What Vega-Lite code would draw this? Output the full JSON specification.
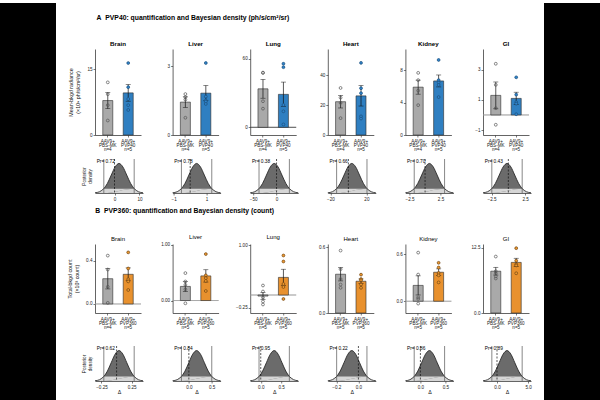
{
  "$schema": "https://vega.github.io/schema/vega-lite/v6.json",
  "padding": 0,
  "background": "white",
  "spacing": 11,
  "config": {
    "font": "Liberation Sans",
    "view": {"stroke": null},
    "axis": {"labelFontSize": 4.6, "labelColor": "#222", "titleFontSize": 5.3, "titleFontWeight": "normal", "titleColor": "#111", "tickSize": 2, "tickColor": "#222", "tickWidth": 0.6, "domainColor": "#222", "domainWidth": 0.7, "labelPadding": 1, "grid": false, "titlePadding": 6, "labelFlush": false, "labelOverlap": false},
    "axisX": {"labelAngle": 0, "labelLineHeight": 4.4, "titlePadding": 1},
    "title": {"fontSize": 6.2, "fontWeight": "bold", "offset": 2, "color": "#000", "frame": "group", "anchor": "middle"}
  },
  "datasets": {
    "bars": [
      {"p": "A-Brain", "grp": "AAV9+ PBS-MK n=4", "c": "PBS-MK", "m": 7.85, "lo": 6.0, "hi": 9.7},
      {"p": "A-Brain", "grp": "AAV9+ PVP40 n=5", "c": "PVP40", "m": 9.6, "lo": 7.7, "hi": 11.5},
      {"p": "A-Liver", "grp": "AAV9+ PBS-MK n=4", "c": "PBS-MK", "m": 1.43, "lo": 1.2, "hi": 1.66},
      {"p": "A-Liver", "grp": "AAV9+ PVP40 n=5", "c": "PVP40", "m": 1.82, "lo": 1.49, "hi": 2.15},
      {"p": "A-Lung", "grp": "AAV9+ PBS-MK n=4", "c": "PBS-MK", "m": 33.6, "lo": 25.4, "hi": 41.8},
      {"p": "A-Lung", "grp": "AAV9+ PVP40 n=5", "c": "PVP40", "m": 28.8, "lo": 18.1, "hi": 39.5},
      {"p": "A-Heart", "grp": "AAV9+ PBS-MK n=4", "c": "PBS-MK", "m": 22.3, "lo": 18.1, "hi": 26.5},
      {"p": "A-Heart", "grp": "AAV9+ PVP40 n=5", "c": "PVP40", "m": 26.2, "lo": 19.4, "hi": 33.1},
      {"p": "A-Kidney", "grp": "AAV9+ PBS-MK n=4", "c": "PBS-MK", "m": 5.93, "lo": 5.06, "hi": 6.8},
      {"p": "A-Kidney", "grp": "AAV9+ PVP40 n=5", "c": "PVP40", "m": 6.7, "lo": 5.96, "hi": 7.44},
      {"p": "A-GI", "grp": "AAV9+ PBS-MK n=4", "c": "PBS-MK", "m": 1.3, "lo": 0.41, "hi": 2.19},
      {"p": "A-GI", "grp": "AAV9+ PVP40 n=5", "c": "PVP40", "m": 1.1, "lo": 0.69, "hi": 1.51},
      {"p": "B-Brain", "grp": "AAV9+ PBS-MK n=4", "c": "PBS-MK", "m": 0.235, "lo": 0.14, "hi": 0.33},
      {"p": "B-Brain", "grp": "AAV9+ PVP360 n=5", "c": "PVP360", "m": 0.276, "lo": 0.216, "hi": 0.336},
      {"p": "B-Liver", "grp": "AAV9+ PBS-MK n=5", "c": "PBS-MK", "m": 0.252, "lo": 0.163, "hi": 0.341},
      {"p": "B-Liver", "grp": "AAV9+ PVP360 n=5", "c": "PVP360", "m": 0.44, "lo": 0.33, "hi": 0.55},
      {"p": "B-Lung", "grp": "AAV9+ PBS-MK n=5", "c": "PBS-MK", "m": -0.022, "lo": -0.09, "hi": 0.047},
      {"p": "B-Lung", "grp": "AAV9+ PVP360 n=5", "c": "PVP360", "m": 0.352, "lo": 0.19, "hi": 0.515},
      {"p": "B-Heart", "grp": "AAV9+ PBS-MK n=5", "c": "PBS-MK", "m": 0.354, "lo": 0.293, "hi": 0.415},
      {"p": "B-Heart", "grp": "AAV9+ PVP360 n=5", "c": "PVP360", "m": 0.29, "lo": 0.269, "hi": 0.311},
      {"p": "B-Kidney", "grp": "AAV9+ PBS-MK n=5", "c": "PBS-MK", "m": 0.202, "lo": 0.08, "hi": 0.324},
      {"p": "B-Kidney", "grp": "AAV9+ PVP360 n=5", "c": "PVP360", "m": 0.37, "lo": 0.327, "hi": 0.413},
      {"p": "B-GI", "grp": "AAV9+ PBS-MK n=5", "c": "PBS-MK", "m": 8.0, "lo": 7.26, "hi": 8.74},
      {"p": "B-GI", "grp": "AAV9+ PVP360 n=5", "c": "PVP360", "m": 9.68, "lo": 8.9, "hi": 10.47}
    ],
    "pts": [
      {"p": "A-Brain", "grp": "AAV9+ PBS-MK n=4", "c": "PBS-MK", "v": 12.0},
      {"p": "A-Brain", "grp": "AAV9+ PBS-MK n=4", "c": "PBS-MK", "v": 9.3},
      {"p": "A-Brain", "grp": "AAV9+ PBS-MK n=4", "c": "PBS-MK", "v": 6.8},
      {"p": "A-Brain", "grp": "AAV9+ PBS-MK n=4", "c": "PBS-MK", "v": 3.3},
      {"p": "A-Brain", "grp": "AAV9+ PVP40 n=5", "c": "PVP40", "v": 16.4},
      {"p": "A-Brain", "grp": "AAV9+ PVP40 n=5", "c": "PVP40", "v": 10.9},
      {"p": "A-Brain", "grp": "AAV9+ PVP40 n=5", "c": "PVP40", "v": 8.2},
      {"p": "A-Brain", "grp": "AAV9+ PVP40 n=5", "c": "PVP40", "v": 6.8},
      {"p": "A-Brain", "grp": "AAV9+ PVP40 n=5", "c": "PVP40", "v": 5.7},
      {"p": "A-Liver", "grp": "AAV9+ PBS-MK n=4", "c": "PBS-MK", "v": 1.78},
      {"p": "A-Liver", "grp": "AAV9+ PBS-MK n=4", "c": "PBS-MK", "v": 1.65},
      {"p": "A-Liver", "grp": "AAV9+ PBS-MK n=4", "c": "PBS-MK", "v": 1.54},
      {"p": "A-Liver", "grp": "AAV9+ PBS-MK n=4", "c": "PBS-MK", "v": 0.75},
      {"p": "A-Liver", "grp": "AAV9+ PVP40 n=5", "c": "PVP40", "v": 3.13},
      {"p": "A-Liver", "grp": "AAV9+ PVP40 n=5", "c": "PVP40", "v": 1.67},
      {"p": "A-Liver", "grp": "AAV9+ PVP40 n=5", "c": "PVP40", "v": 1.5},
      {"p": "A-Liver", "grp": "AAV9+ PVP40 n=5", "c": "PVP40", "v": 1.45},
      {"p": "A-Liver", "grp": "AAV9+ PVP40 n=5", "c": "PVP40", "v": 1.35},
      {"p": "A-Lung", "grp": "AAV9+ PBS-MK n=4", "c": "PBS-MK", "v": 47.8},
      {"p": "A-Lung", "grp": "AAV9+ PBS-MK n=4", "c": "PBS-MK", "v": 47.5},
      {"p": "A-Lung", "grp": "AAV9+ PBS-MK n=4", "c": "PBS-MK", "v": 22.8},
      {"p": "A-Lung", "grp": "AAV9+ PBS-MK n=4", "c": "PBS-MK", "v": 16.3},
      {"p": "A-Lung", "grp": "AAV9+ PVP40 n=5", "c": "PVP40", "v": 55.5},
      {"p": "A-Lung", "grp": "AAV9+ PVP40 n=5", "c": "PVP40", "v": 52.5},
      {"p": "A-Lung", "grp": "AAV9+ PVP40 n=5", "c": "PVP40", "v": 19.5},
      {"p": "A-Lung", "grp": "AAV9+ PVP40 n=5", "c": "PVP40", "v": 14.0},
      {"p": "A-Lung", "grp": "AAV9+ PVP40 n=5", "c": "PVP40", "v": 2.5},
      {"p": "A-Heart", "grp": "AAV9+ PBS-MK n=4", "c": "PBS-MK", "v": 31.5},
      {"p": "A-Heart", "grp": "AAV9+ PBS-MK n=4", "c": "PBS-MK", "v": 25.0},
      {"p": "A-Heart", "grp": "AAV9+ PBS-MK n=4", "c": "PBS-MK", "v": 21.5},
      {"p": "A-Heart", "grp": "AAV9+ PBS-MK n=4", "c": "PBS-MK", "v": 11.3},
      {"p": "A-Heart", "grp": "AAV9+ PVP40 n=5", "c": "PVP40", "v": 48.3},
      {"p": "A-Heart", "grp": "AAV9+ PVP40 n=5", "c": "PVP40", "v": 31.3},
      {"p": "A-Heart", "grp": "AAV9+ PVP40 n=5", "c": "PVP40", "v": 28.0},
      {"p": "A-Heart", "grp": "AAV9+ PVP40 n=5", "c": "PVP40", "v": 12.5},
      {"p": "A-Heart", "grp": "AAV9+ PVP40 n=5", "c": "PVP40", "v": 11.0},
      {"p": "A-Kidney", "grp": "AAV9+ PBS-MK n=4", "c": "PBS-MK", "v": 7.7},
      {"p": "A-Kidney", "grp": "AAV9+ PBS-MK n=4", "c": "PBS-MK", "v": 6.8},
      {"p": "A-Kidney", "grp": "AAV9+ PBS-MK n=4", "c": "PBS-MK", "v": 5.5},
      {"p": "A-Kidney", "grp": "AAV9+ PBS-MK n=4", "c": "PBS-MK", "v": 3.7},
      {"p": "A-Kidney", "grp": "AAV9+ PVP40 n=5", "c": "PVP40", "v": 9.3},
      {"p": "A-Kidney", "grp": "AAV9+ PVP40 n=5", "c": "PVP40", "v": 6.8},
      {"p": "A-Kidney", "grp": "AAV9+ PVP40 n=5", "c": "PVP40", "v": 6.5},
      {"p": "A-Kidney", "grp": "AAV9+ PVP40 n=5", "c": "PVP40", "v": 6.2},
      {"p": "A-Kidney", "grp": "AAV9+ PVP40 n=5", "c": "PVP40", "v": 4.7},
      {"p": "A-GI", "grp": "AAV9+ PBS-MK n=4", "c": "PBS-MK", "v": 3.4},
      {"p": "A-GI", "grp": "AAV9+ PBS-MK n=4", "c": "PBS-MK", "v": 2.0},
      {"p": "A-GI", "grp": "AAV9+ PBS-MK n=4", "c": "PBS-MK", "v": 0.45},
      {"p": "A-GI", "grp": "AAV9+ PBS-MK n=4", "c": "PBS-MK", "v": -0.65},
      {"p": "A-GI", "grp": "AAV9+ PVP40 n=5", "c": "PVP40", "v": 2.5},
      {"p": "A-GI", "grp": "AAV9+ PVP40 n=5", "c": "PVP40", "v": 1.35},
      {"p": "A-GI", "grp": "AAV9+ PVP40 n=5", "c": "PVP40", "v": 0.85},
      {"p": "A-GI", "grp": "AAV9+ PVP40 n=5", "c": "PVP40", "v": 0.75},
      {"p": "A-GI", "grp": "AAV9+ PVP40 n=5", "c": "PVP40", "v": 0.05},
      {"p": "B-Brain", "grp": "AAV9+ PBS-MK n=4", "c": "PBS-MK", "v": 0.45},
      {"p": "B-Brain", "grp": "AAV9+ PBS-MK n=4", "c": "PBS-MK", "v": 0.32},
      {"p": "B-Brain", "grp": "AAV9+ PBS-MK n=4", "c": "PBS-MK", "v": 0.16},
      {"p": "B-Brain", "grp": "AAV9+ PBS-MK n=4", "c": "PBS-MK", "v": 0.01},
      {"p": "B-Brain", "grp": "AAV9+ PVP360 n=5", "c": "PVP360", "v": 0.48},
      {"p": "B-Brain", "grp": "AAV9+ PVP360 n=5", "c": "PVP360", "v": 0.33},
      {"p": "B-Brain", "grp": "AAV9+ PVP360 n=5", "c": "PVP360", "v": 0.23},
      {"p": "B-Brain", "grp": "AAV9+ PVP360 n=5", "c": "PVP360", "v": 0.21},
      {"p": "B-Brain", "grp": "AAV9+ PVP360 n=5", "c": "PVP360", "v": 0.13},
      {"p": "B-Liver", "grp": "AAV9+ PBS-MK n=5", "c": "PBS-MK", "v": 0.49},
      {"p": "B-Liver", "grp": "AAV9+ PBS-MK n=5", "c": "PBS-MK", "v": 0.34},
      {"p": "B-Liver", "grp": "AAV9+ PBS-MK n=5", "c": "PBS-MK", "v": 0.28},
      {"p": "B-Liver", "grp": "AAV9+ PBS-MK n=5", "c": "PBS-MK", "v": 0.2},
      {"p": "B-Liver", "grp": "AAV9+ PBS-MK n=5", "c": "PBS-MK", "v": -0.05},
      {"p": "B-Liver", "grp": "AAV9+ PVP360 n=5", "c": "PVP360", "v": 0.83},
      {"p": "B-Liver", "grp": "AAV9+ PVP360 n=5", "c": "PVP360", "v": 0.45},
      {"p": "B-Liver", "grp": "AAV9+ PVP360 n=5", "c": "PVP360", "v": 0.4},
      {"p": "B-Liver", "grp": "AAV9+ PVP360 n=5", "c": "PVP360", "v": 0.35},
      {"p": "B-Liver", "grp": "AAV9+ PVP360 n=5", "c": "PVP360", "v": 0.17},
      {"p": "B-Lung", "grp": "AAV9+ PBS-MK n=5", "c": "PBS-MK", "v": 0.19},
      {"p": "B-Lung", "grp": "AAV9+ PBS-MK n=5", "c": "PBS-MK", "v": 0.07},
      {"p": "B-Lung", "grp": "AAV9+ PBS-MK n=5", "c": "PBS-MK", "v": -0.05},
      {"p": "B-Lung", "grp": "AAV9+ PBS-MK n=5", "c": "PBS-MK", "v": -0.13},
      {"p": "B-Lung", "grp": "AAV9+ PBS-MK n=5", "c": "PBS-MK", "v": -0.19},
      {"p": "B-Lung", "grp": "AAV9+ PVP360 n=5", "c": "PVP360", "v": 0.79},
      {"p": "B-Lung", "grp": "AAV9+ PVP360 n=5", "c": "PVP360", "v": 0.67},
      {"p": "B-Lung", "grp": "AAV9+ PVP360 n=5", "c": "PVP360", "v": 0.22},
      {"p": "B-Lung", "grp": "AAV9+ PVP360 n=5", "c": "PVP360", "v": 0.16},
      {"p": "B-Lung", "grp": "AAV9+ PVP360 n=5", "c": "PVP360", "v": -0.08},
      {"p": "B-Heart", "grp": "AAV9+ PBS-MK n=5", "c": "PBS-MK", "v": 0.57},
      {"p": "B-Heart", "grp": "AAV9+ PBS-MK n=5", "c": "PBS-MK", "v": 0.4},
      {"p": "B-Heart", "grp": "AAV9+ PBS-MK n=5", "c": "PBS-MK", "v": 0.31},
      {"p": "B-Heart", "grp": "AAV9+ PBS-MK n=5", "c": "PBS-MK", "v": 0.26},
      {"p": "B-Heart", "grp": "AAV9+ PBS-MK n=5", "c": "PBS-MK", "v": 0.23},
      {"p": "B-Heart", "grp": "AAV9+ PVP360 n=5", "c": "PVP360", "v": 0.35},
      {"p": "B-Heart", "grp": "AAV9+ PVP360 n=5", "c": "PVP360", "v": 0.31},
      {"p": "B-Heart", "grp": "AAV9+ PVP360 n=5", "c": "PVP360", "v": 0.3},
      {"p": "B-Heart", "grp": "AAV9+ PVP360 n=5", "c": "PVP360", "v": 0.26},
      {"p": "B-Heart", "grp": "AAV9+ PVP360 n=5", "c": "PVP360", "v": 0.23},
      {"p": "B-Kidney", "grp": "AAV9+ PBS-MK n=5", "c": "PBS-MK", "v": 0.62},
      {"p": "B-Kidney", "grp": "AAV9+ PBS-MK n=5", "c": "PBS-MK", "v": 0.34},
      {"p": "B-Kidney", "grp": "AAV9+ PBS-MK n=5", "c": "PBS-MK", "v": 0.05},
      {"p": "B-Kidney", "grp": "AAV9+ PBS-MK n=5", "c": "PBS-MK", "v": 0.03},
      {"p": "B-Kidney", "grp": "AAV9+ PBS-MK n=5", "c": "PBS-MK", "v": -0.03},
      {"p": "B-Kidney", "grp": "AAV9+ PVP360 n=5", "c": "PVP360", "v": 0.49},
      {"p": "B-Kidney", "grp": "AAV9+ PVP360 n=5", "c": "PVP360", "v": 0.43},
      {"p": "B-Kidney", "grp": "AAV9+ PVP360 n=5", "c": "PVP360", "v": 0.36},
      {"p": "B-Kidney", "grp": "AAV9+ PVP360 n=5", "c": "PVP360", "v": 0.33},
      {"p": "B-Kidney", "grp": "AAV9+ PVP360 n=5", "c": "PVP360", "v": 0.24},
      {"p": "B-GI", "grp": "AAV9+ PBS-MK n=5", "c": "PBS-MK", "v": 10.8},
      {"p": "B-GI", "grp": "AAV9+ PBS-MK n=5", "c": "PBS-MK", "v": 8.0},
      {"p": "B-GI", "grp": "AAV9+ PBS-MK n=5", "c": "PBS-MK", "v": 7.6},
      {"p": "B-GI", "grp": "AAV9+ PBS-MK n=5", "c": "PBS-MK", "v": 7.0},
      {"p": "B-GI", "grp": "AAV9+ PBS-MK n=5", "c": "PBS-MK", "v": 6.6},
      {"p": "B-GI", "grp": "AAV9+ PVP360 n=5", "c": "PVP360", "v": 12.4},
      {"p": "B-GI", "grp": "AAV9+ PVP360 n=5", "c": "PVP360", "v": 10.0},
      {"p": "B-GI", "grp": "AAV9+ PVP360 n=5", "c": "PVP360", "v": 9.3},
      {"p": "B-GI", "grp": "AAV9+ PVP360 n=5", "c": "PVP360", "v": 9.1},
      {"p": "B-GI", "grp": "AAV9+ PVP360 n=5", "c": "PVP360", "v": 7.6}
    ],
    "post": [
      {"p": "A-Brain", "lo": -4.28, "hi": 7.88, "lab": "Pr= 0.72"},
      {"p": "A-Liver", "lo": -0.531, "hi": 1.311, "lab": "Pr= 0.78"},
      {"p": "A-Lung", "lo": -37.54, "hi": 27.54, "lab": "Pr= 0.38"},
      {"p": "A-Heart", "lo": -13.06, "hi": 20.66, "lab": "Pr= 0.66"},
      {"p": "A-Kidney", "lo": -1.75, "hi": 3.15, "lab": "Pr= 0.70"},
      {"p": "A-GI", "lo": -2.454, "hi": 2.054, "lab": "Pr= 0.43"},
      {"p": "B-Brain", "lo": -0.211, "hi": 0.291, "lab": "Pr= 0.62"},
      {"p": "B-Liver", "lo": -0.163, "hi": 0.503, "lab": "Pr= 0.84"},
      {"p": "B-Lung", "lo": -0.042, "hi": 0.702, "lab": "Pr= 0.95"},
      {"p": "B-Heart", "lo": -0.197, "hi": 0.077, "lab": "Pr= 0.22"},
      {"p": "B-Kidney", "lo": -0.124, "hi": 0.484, "lab": "Pr= 0.86"},
      {"p": "B-GI", "lo": -0.83, "hi": 4.03, "lab": "Pr= 0.89"}
    ],
    "dens": [
      {"p": "A-Brain", "g": "L", "x": -7.81, "y": 0.0082}, {"p": "A-Brain", "g": "L", "x": -5.95, "y": 0.0439}, {"p": "A-Brain", "g": "L", "x": -4.28, "y": 0.1465},
      {"p": "A-Brain", "g": "M", "x": -4.28, "y": 0.1465}, {"p": "A-Brain", "g": "M", "x": -2.85, "y": 0.3247}, {"p": "A-Brain", "g": "M", "x": -1.3, "y": 0.6065}, {"p": "A-Brain", "g": "M", "x": 0.25, "y": 0.8825}, {"p": "A-Brain", "g": "M", "x": 1.8, "y": 1}, {"p": "A-Brain", "g": "M", "x": 3.35, "y": 0.8825}, {"p": "A-Brain", "g": "M", "x": 4.9, "y": 0.6065}, {"p": "A-Brain", "g": "M", "x": 6.45, "y": 0.3247}, {"p": "A-Brain", "g": "M", "x": 7.88, "y": 0.1465},
      {"p": "A-Brain", "g": "R", "x": 7.88, "y": 0.1465}, {"p": "A-Brain", "g": "R", "x": 9.55, "y": 0.0439}, {"p": "A-Brain", "g": "R", "x": 11.41, "y": 0.0082},
      {"p": "A-Liver", "g": "L", "x": -1.067, "y": 0.0082}, {"p": "A-Liver", "g": "L", "x": -0.785, "y": 0.0439}, {"p": "A-Liver", "g": "L", "x": -0.531, "y": 0.1465},
      {"p": "A-Liver", "g": "M", "x": -0.531, "y": 0.1465}, {"p": "A-Liver", "g": "M", "x": -0.315, "y": 0.3247}, {"p": "A-Liver", "g": "M", "x": -0.08, "y": 0.6065}, {"p": "A-Liver", "g": "M", "x": 0.155, "y": 0.8825}, {"p": "A-Liver", "g": "M", "x": 0.39, "y": 1}, {"p": "A-Liver", "g": "M", "x": 0.625, "y": 0.8825}, {"p": "A-Liver", "g": "M", "x": 0.86, "y": 0.6065}, {"p": "A-Liver", "g": "M", "x": 1.095, "y": 0.3247}, {"p": "A-Liver", "g": "M", "x": 1.311, "y": 0.1465},
      {"p": "A-Liver", "g": "R", "x": 1.311, "y": 0.1465}, {"p": "A-Liver", "g": "R", "x": 1.565, "y": 0.0439}, {"p": "A-Liver", "g": "R", "x": 1.847, "y": 0.0082},
      {"p": "A-Lung", "g": "L", "x": -56.46, "y": 0.0082}, {"p": "A-Lung", "g": "L", "x": -46.5, "y": 0.0439}, {"p": "A-Lung", "g": "L", "x": -37.54, "y": 0.1465},
      {"p": "A-Lung", "g": "M", "x": -37.54, "y": 0.1465}, {"p": "A-Lung", "g": "M", "x": -29.9, "y": 0.3247}, {"p": "A-Lung", "g": "M", "x": -21.6, "y": 0.6065}, {"p": "A-Lung", "g": "M", "x": -13.3, "y": 0.8825}, {"p": "A-Lung", "g": "M", "x": -5, "y": 1}, {"p": "A-Lung", "g": "M", "x": 3.3, "y": 0.8825}, {"p": "A-Lung", "g": "M", "x": 11.6, "y": 0.6065}, {"p": "A-Lung", "g": "M", "x": 19.9, "y": 0.3247}, {"p": "A-Lung", "g": "M", "x": 27.54, "y": 0.1465},
      {"p": "A-Lung", "g": "R", "x": 27.54, "y": 0.1465}, {"p": "A-Lung", "g": "R", "x": 36.5, "y": 0.0439}, {"p": "A-Lung", "g": "R", "x": 46.46, "y": 0.0082},
      {"p": "A-Heart", "g": "L", "x": -22.86, "y": 0.0082}, {"p": "A-Heart", "g": "L", "x": -17.7, "y": 0.0439}, {"p": "A-Heart", "g": "L", "x": -13.06, "y": 0.1465},
      {"p": "A-Heart", "g": "M", "x": -13.06, "y": 0.1465}, {"p": "A-Heart", "g": "M", "x": -9.1, "y": 0.3247}, {"p": "A-Heart", "g": "M", "x": -4.8, "y": 0.6065}, {"p": "A-Heart", "g": "M", "x": -0.5, "y": 0.8825}, {"p": "A-Heart", "g": "M", "x": 3.8, "y": 1}, {"p": "A-Heart", "g": "M", "x": 8.1, "y": 0.8825}, {"p": "A-Heart", "g": "M", "x": 12.4, "y": 0.6065}, {"p": "A-Heart", "g": "M", "x": 16.7, "y": 0.3247}, {"p": "A-Heart", "g": "M", "x": 20.66, "y": 0.1465},
      {"p": "A-Heart", "g": "R", "x": 20.66, "y": 0.1465}, {"p": "A-Heart", "g": "R", "x": 25.3, "y": 0.0439}, {"p": "A-Heart", "g": "R", "x": 30.46, "y": 0.0082},
      {"p": "A-Kidney", "g": "L", "x": -3.175, "y": 0.0082}, {"p": "A-Kidney", "g": "L", "x": -2.425, "y": 0.0439}, {"p": "A-Kidney", "g": "L", "x": -1.75, "y": 0.1465},
      {"p": "A-Kidney", "g": "M", "x": -1.75, "y": 0.1465}, {"p": "A-Kidney", "g": "M", "x": -1.175, "y": 0.3247}, {"p": "A-Kidney", "g": "M", "x": -0.55, "y": 0.6065}, {"p": "A-Kidney", "g": "M", "x": 0.075, "y": 0.8825}, {"p": "A-Kidney", "g": "M", "x": 0.7, "y": 1}, {"p": "A-Kidney", "g": "M", "x": 1.325, "y": 0.8825}, {"p": "A-Kidney", "g": "M", "x": 1.95, "y": 0.6065}, {"p": "A-Kidney", "g": "M", "x": 2.575, "y": 0.3247}, {"p": "A-Kidney", "g": "M", "x": 3.15, "y": 0.1465},
      {"p": "A-Kidney", "g": "R", "x": 3.15, "y": 0.1465}, {"p": "A-Kidney", "g": "R", "x": 3.825, "y": 0.0439}, {"p": "A-Kidney", "g": "R", "x": 4.575, "y": 0.0082},
      {"p": "A-GI", "g": "L", "x": -3.765, "y": 0.0082}, {"p": "A-GI", "g": "L", "x": -3.075, "y": 0.0439}, {"p": "A-GI", "g": "L", "x": -2.454, "y": 0.1465},
      {"p": "A-GI", "g": "M", "x": -2.454, "y": 0.1465}, {"p": "A-GI", "g": "M", "x": -1.925, "y": 0.3247}, {"p": "A-GI", "g": "M", "x": -1.35, "y": 0.6065}, {"p": "A-GI", "g": "M", "x": -0.775, "y": 0.8825}, {"p": "A-GI", "g": "M", "x": -0.2, "y": 1}, {"p": "A-GI", "g": "M", "x": 0.375, "y": 0.8825}, {"p": "A-GI", "g": "M", "x": 0.95, "y": 0.6065}, {"p": "A-GI", "g": "M", "x": 1.525, "y": 0.3247}, {"p": "A-GI", "g": "M", "x": 2.054, "y": 0.1465},
      {"p": "A-GI", "g": "R", "x": 2.054, "y": 0.1465}, {"p": "A-GI", "g": "R", "x": 2.675, "y": 0.0439}, {"p": "A-GI", "g": "R", "x": 3.365, "y": 0.0082},
      {"p": "B-Brain", "g": "L", "x": -0.357, "y": 0.0082}, {"p": "B-Brain", "g": "L", "x": -0.28, "y": 0.0439}, {"p": "B-Brain", "g": "L", "x": -0.211, "y": 0.1465},
      {"p": "B-Brain", "g": "M", "x": -0.211, "y": 0.1465}, {"p": "B-Brain", "g": "M", "x": -0.152, "y": 0.3247}, {"p": "B-Brain", "g": "M", "x": -0.088, "y": 0.6065}, {"p": "B-Brain", "g": "M", "x": -0.024, "y": 0.8825}, {"p": "B-Brain", "g": "M", "x": 0.04, "y": 1}, {"p": "B-Brain", "g": "M", "x": 0.104, "y": 0.8825}, {"p": "B-Brain", "g": "M", "x": 0.168, "y": 0.6065}, {"p": "B-Brain", "g": "M", "x": 0.232, "y": 0.3247}, {"p": "B-Brain", "g": "M", "x": 0.291, "y": 0.1465},
      {"p": "B-Brain", "g": "R", "x": 0.291, "y": 0.1465}, {"p": "B-Brain", "g": "R", "x": 0.36, "y": 0.0439}, {"p": "B-Brain", "g": "R", "x": 0.437, "y": 0.0082},
      {"p": "B-Liver", "g": "L", "x": -0.357, "y": 0.0082}, {"p": "B-Liver", "g": "L", "x": -0.255, "y": 0.0439}, {"p": "B-Liver", "g": "L", "x": -0.163, "y": 0.1465},
      {"p": "B-Liver", "g": "M", "x": -0.163, "y": 0.1465}, {"p": "B-Liver", "g": "M", "x": -0.085, "y": 0.3247}, {"p": "B-Liver", "g": "M", "x": 0.0, "y": 0.6065}, {"p": "B-Liver", "g": "M", "x": 0.085, "y": 0.8825}, {"p": "B-Liver", "g": "M", "x": 0.17, "y": 1}, {"p": "B-Liver", "g": "M", "x": 0.255, "y": 0.8825}, {"p": "B-Liver", "g": "M", "x": 0.34, "y": 0.6065}, {"p": "B-Liver", "g": "M", "x": 0.425, "y": 0.3247}, {"p": "B-Liver", "g": "M", "x": 0.503, "y": 0.1465},
      {"p": "B-Liver", "g": "R", "x": 0.503, "y": 0.1465}, {"p": "B-Liver", "g": "R", "x": 0.595, "y": 0.0439}, {"p": "B-Liver", "g": "R", "x": 0.697, "y": 0.0082},
      {"p": "B-Lung", "g": "L", "x": -0.259, "y": 0.0082}, {"p": "B-Lung", "g": "L", "x": -0.145, "y": 0.0439}, {"p": "B-Lung", "g": "L", "x": -0.042, "y": 0.1465},
      {"p": "B-Lung", "g": "M", "x": -0.042, "y": 0.1465}, {"p": "B-Lung", "g": "M", "x": 0.045, "y": 0.3247}, {"p": "B-Lung", "g": "M", "x": 0.14, "y": 0.6065}, {"p": "B-Lung", "g": "M", "x": 0.235, "y": 0.8825}, {"p": "B-Lung", "g": "M", "x": 0.33, "y": 1}, {"p": "B-Lung", "g": "M", "x": 0.425, "y": 0.8825}, {"p": "B-Lung", "g": "M", "x": 0.52, "y": 0.6065}, {"p": "B-Lung", "g": "M", "x": 0.615, "y": 0.3247}, {"p": "B-Lung", "g": "M", "x": 0.702, "y": 0.1465},
      {"p": "B-Lung", "g": "R", "x": 0.702, "y": 0.1465}, {"p": "B-Lung", "g": "R", "x": 0.805, "y": 0.0439}, {"p": "B-Lung", "g": "R", "x": 0.919, "y": 0.0082},
      {"p": "B-Heart", "g": "L", "x": -0.277, "y": 0.0082}, {"p": "B-Heart", "g": "L", "x": -0.235, "y": 0.0439}, {"p": "B-Heart", "g": "L", "x": -0.197, "y": 0.1465},
      {"p": "B-Heart", "g": "M", "x": -0.197, "y": 0.1465}, {"p": "B-Heart", "g": "M", "x": -0.165, "y": 0.3247}, {"p": "B-Heart", "g": "M", "x": -0.13, "y": 0.6065}, {"p": "B-Heart", "g": "M", "x": -0.095, "y": 0.8825}, {"p": "B-Heart", "g": "M", "x": -0.06, "y": 1}, {"p": "B-Heart", "g": "M", "x": -0.025, "y": 0.8825}, {"p": "B-Heart", "g": "M", "x": 0.01, "y": 0.6065}, {"p": "B-Heart", "g": "M", "x": 0.045, "y": 0.3247}, {"p": "B-Heart", "g": "M", "x": 0.077, "y": 0.1465},
      {"p": "B-Heart", "g": "R", "x": 0.077, "y": 0.1465}, {"p": "B-Heart", "g": "R", "x": 0.115, "y": 0.0439}, {"p": "B-Heart", "g": "R", "x": 0.157, "y": 0.0082},
      {"p": "B-Kidney", "g": "L", "x": -0.3, "y": 0.0082}, {"p": "B-Kidney", "g": "L", "x": -0.2075, "y": 0.0439}, {"p": "B-Kidney", "g": "L", "x": -0.124, "y": 0.1465},
      {"p": "B-Kidney", "g": "M", "x": -0.124, "y": 0.1465}, {"p": "B-Kidney", "g": "M", "x": -0.0525, "y": 0.3247}, {"p": "B-Kidney", "g": "M", "x": 0.025, "y": 0.6065}, {"p": "B-Kidney", "g": "M", "x": 0.1025, "y": 0.8825}, {"p": "B-Kidney", "g": "M", "x": 0.18, "y": 1}, {"p": "B-Kidney", "g": "M", "x": 0.2575, "y": 0.8825}, {"p": "B-Kidney", "g": "M", "x": 0.335, "y": 0.6065}, {"p": "B-Kidney", "g": "M", "x": 0.4125, "y": 0.3247}, {"p": "B-Kidney", "g": "M", "x": 0.484, "y": 0.1465},
      {"p": "B-Kidney", "g": "R", "x": 0.484, "y": 0.1465}, {"p": "B-Kidney", "g": "R", "x": 0.5675, "y": 0.0439}, {"p": "B-Kidney", "g": "R", "x": 0.66, "y": 0.0082},
      {"p": "B-GI", "g": "L", "x": -2.244, "y": 0.0082}, {"p": "B-GI", "g": "L", "x": -1.5, "y": 0.0439}, {"p": "B-GI", "g": "L", "x": -0.83, "y": 0.1465},
      {"p": "B-GI", "g": "M", "x": -0.83, "y": 0.1465}, {"p": "B-GI", "g": "M", "x": -0.26, "y": 0.3247}, {"p": "B-GI", "g": "M", "x": 0.36, "y": 0.6065}, {"p": "B-GI", "g": "M", "x": 0.98, "y": 0.8825}, {"p": "B-GI", "g": "M", "x": 1.6, "y": 1}, {"p": "B-GI", "g": "M", "x": 2.22, "y": 0.8825}, {"p": "B-GI", "g": "M", "x": 2.84, "y": 0.6065}, {"p": "B-GI", "g": "M", "x": 3.46, "y": 0.3247}, {"p": "B-GI", "g": "M", "x": 4.03, "y": 0.1465},
      {"p": "B-GI", "g": "R", "x": 4.03, "y": 0.1465}, {"p": "B-GI", "g": "R", "x": 4.7, "y": 0.0439}, {"p": "B-GI", "g": "R", "x": 5.444, "y": 0.0082}
    ]
  },
  "hconcat": [
    {"width": 56, "height": 400, "view": {"fill": "black", "stroke": null}, "data": {"values": [{}]}, "mark": {"type": "point", "opacity": 0}, "encoding": {}},
    {
      "spacing": 8,
      "vconcat": [
        {"width": 1, "height": 1, "data": {"values": [{}]}, "mark": {"type": "point", "opacity": 0}, "encoding": {}},
        {
          "spacing": 6,
          "vconcat": [
            {
              "title": {"text": "A\u00a0\u00a0PVP40: quantification and Bayesian density (ph/s/cm²/sr)", "anchor": "start", "frame": "bounds", "dx": 28, "offset": 19, "fontSize": 6.8, "fontWeight": "bold"},
              "columns": 6, "bounds": "flush", "spacing": {"row": 24, "column": 29.6},
              "concat": [
                {"title": "Brain", "width": 46, "height": 86, "data": {"name": "bars"}, "transform": [{"filter": "datum.p == 'A-Brain'"}],
                 "layer": [
                  {"mark": {"type": "bar", "stroke": "#2b2b2b", "strokeWidth": 0.6}, "encoding": {"x": {"field": "grp", "type": "nominal", "scale": {"paddingInner": 0.51, "paddingOuter": 0.38}, "axis": {"title": null, "labelExpr": "split(datum.label, ' ')"}}, "y": {"field": "m", "type": "quantitative", "scale": {"domain": [0, 19.6], "nice": false, "zero": false}, "axis": {"values": [0, 5, 10, 15], "labelOverlap": false, "title": ["Mean-bkgd radiance", "(×10⁹ ph/s/cm²/sr)"]}}, "color": {"field": "c", "type": "nominal", "scale": {"domain": ["PBS-MK", "PVP40", "PVP360"], "range": ["#a9a9a9", "#2f7fc1", "#e8912e"]}, "legend": null}}},
                  {"mark": {"type": "rule", "color": "#111", "strokeWidth": 0.7}, "encoding": {"x": {"field": "grp", "type": "nominal"}, "y": {"field": "lo", "type": "quantitative"}, "y2": {"field": "hi"}}},
                  {"mark": {"type": "tick", "color": "#111", "size": 5, "thickness": 0.7}, "encoding": {"x": {"field": "grp", "type": "nominal"}, "y": {"field": "lo", "type": "quantitative"}}},
                  {"mark": {"type": "tick", "color": "#111", "size": 5, "thickness": 0.7}, "encoding": {"x": {"field": "grp", "type": "nominal"}, "y": {"field": "hi", "type": "quantitative"}}},
                  {"data": {"name": "pts"}, "transform": [{"filter": "datum.p == 'A-Brain'"}], "mark": {"type": "point", "size": 8, "strokeWidth": 0.7, "opacity": 1}, "encoding": {"x": {"field": "grp", "type": "nominal"}, "y": {"field": "v", "type": "quantitative"}, "fill": {"field": "c", "type": "nominal", "scale": {"domain": ["PBS-MK", "PVP40", "PVP360"], "range": ["rgba(255,255,255,0)", "#2f84cc", "#ef9a30"]}, "legend": null}, "stroke": {"field": "c", "type": "nominal", "scale": {"domain": ["PBS-MK", "PVP40", "PVP360"], "range": ["#555555", "#1d4f7a", "#6e4412"]}, "legend": null}}}
                 ]},
                {"title": "Liver", "width": 46, "height": 86, "data": {"name": "bars"}, "transform": [{"filter": "datum.p == 'A-Liver'"}],
                 "layer": [
                  {"mark": {"type": "bar", "stroke": "#2b2b2b", "strokeWidth": 0.6}, "encoding": {"x": {"field": "grp", "type": "nominal", "scale": {"paddingInner": 0.51, "paddingOuter": 0.38}, "axis": {"title": null, "labelExpr": "split(datum.label, ' ')"}}, "y": {"field": "m", "type": "quantitative", "scale": {"domain": [0, 3.74], "nice": false, "zero": false}, "axis": {"values": [0, 1, 2, 3], "labelOverlap": false, "title": null}}, "color": {"field": "c", "type": "nominal", "scale": {"domain": ["PBS-MK", "PVP40", "PVP360"], "range": ["#a9a9a9", "#2f7fc1", "#e8912e"]}, "legend": null}}},
                  {"mark": {"type": "rule", "color": "#111", "strokeWidth": 0.7}, "encoding": {"x": {"field": "grp", "type": "nominal"}, "y": {"field": "lo", "type": "quantitative"}, "y2": {"field": "hi"}}},
                  {"mark": {"type": "tick", "color": "#111", "size": 5, "thickness": 0.7}, "encoding": {"x": {"field": "grp", "type": "nominal"}, "y": {"field": "lo", "type": "quantitative"}}},
                  {"mark": {"type": "tick", "color": "#111", "size": 5, "thickness": 0.7}, "encoding": {"x": {"field": "grp", "type": "nominal"}, "y": {"field": "hi", "type": "quantitative"}}},
                  {"data": {"name": "pts"}, "transform": [{"filter": "datum.p == 'A-Liver'"}], "mark": {"type": "point", "size": 8, "strokeWidth": 0.7, "opacity": 1}, "encoding": {"x": {"field": "grp", "type": "nominal"}, "y": {"field": "v", "type": "quantitative"}, "fill": {"field": "c", "type": "nominal", "scale": {"domain": ["PBS-MK", "PVP40", "PVP360"], "range": ["rgba(255,255,255,0)", "#2f84cc", "#ef9a30"]}, "legend": null}, "stroke": {"field": "c", "type": "nominal", "scale": {"domain": ["PBS-MK", "PVP40", "PVP360"], "range": ["#555555", "#1d4f7a", "#6e4412"]}, "legend": null}}}
                 ]},
                {"title": "Lung", "width": 46, "height": 86, "data": {"name": "bars"}, "transform": [{"filter": "datum.p == 'A-Lung'"}],
                 "layer": [
                  {"mark": {"type": "rule", "color": "#444", "strokeWidth": 0.6}, "encoding": {"y": {"datum": 0}}},
                  {"mark": {"type": "bar", "stroke": "#2b2b2b", "strokeWidth": 0.6}, "encoding": {"x": {"field": "grp", "type": "nominal", "scale": {"paddingInner": 0.51, "paddingOuter": 0.38}, "axis": {"title": null, "labelExpr": "split(datum.label, ' ')"}}, "y": {"field": "m", "type": "quantitative", "scale": {"domain": [-6.7, 68.4], "nice": false, "zero": false}, "axis": {"values": [0, 20, 40, 60], "labelOverlap": false, "title": null}}, "color": {"field": "c", "type": "nominal", "scale": {"domain": ["PBS-MK", "PVP40", "PVP360"], "range": ["#a9a9a9", "#2f7fc1", "#e8912e"]}, "legend": null}}},
                  {"mark": {"type": "rule", "color": "#111", "strokeWidth": 0.7}, "encoding": {"x": {"field": "grp", "type": "nominal"}, "y": {"field": "lo", "type": "quantitative"}, "y2": {"field": "hi"}}},
                  {"mark": {"type": "tick", "color": "#111", "size": 5, "thickness": 0.7}, "encoding": {"x": {"field": "grp", "type": "nominal"}, "y": {"field": "lo", "type": "quantitative"}}},
                  {"mark": {"type": "tick", "color": "#111", "size": 5, "thickness": 0.7}, "encoding": {"x": {"field": "grp", "type": "nominal"}, "y": {"field": "hi", "type": "quantitative"}}},
                  {"data": {"name": "pts"}, "transform": [{"filter": "datum.p == 'A-Lung'"}], "mark": {"type": "point", "size": 8, "strokeWidth": 0.7, "opacity": 1}, "encoding": {"x": {"field": "grp", "type": "nominal"}, "y": {"field": "v", "type": "quantitative"}, "fill": {"field": "c", "type": "nominal", "scale": {"domain": ["PBS-MK", "PVP40", "PVP360"], "range": ["rgba(255,255,255,0)", "#2f84cc", "#ef9a30"]}, "legend": null}, "stroke": {"field": "c", "type": "nominal", "scale": {"domain": ["PBS-MK", "PVP40", "PVP360"], "range": ["#555555", "#1d4f7a", "#6e4412"]}, "legend": null}}}
                 ]},
                {"title": "Heart", "width": 46, "height": 86, "data": {"name": "bars"}, "transform": [{"filter": "datum.p == 'A-Heart'"}],
                 "layer": [
                  {"mark": {"type": "bar", "stroke": "#2b2b2b", "strokeWidth": 0.6}, "encoding": {"x": {"field": "grp", "type": "nominal", "scale": {"paddingInner": 0.51, "paddingOuter": 0.38}, "axis": {"title": null, "labelExpr": "split(datum.label, ' ')"}}, "y": {"field": "m", "type": "quantitative", "scale": {"domain": [0, 57.6], "nice": false, "zero": false}, "axis": {"values": [0, 10, 20, 30, 40, 50], "labelOverlap": false, "title": null}}, "color": {"field": "c", "type": "nominal", "scale": {"domain": ["PBS-MK", "PVP40", "PVP360"], "range": ["#a9a9a9", "#2f7fc1", "#e8912e"]}, "legend": null}}},
                  {"mark": {"type": "rule", "color": "#111", "strokeWidth": 0.7}, "encoding": {"x": {"field": "grp", "type": "nominal"}, "y": {"field": "lo", "type": "quantitative"}, "y2": {"field": "hi"}}},
                  {"mark": {"type": "tick", "color": "#111", "size": 5, "thickness": 0.7}, "encoding": {"x": {"field": "grp", "type": "nominal"}, "y": {"field": "lo", "type": "quantitative"}}},
                  {"mark": {"type": "tick", "color": "#111", "size": 5, "thickness": 0.7}, "encoding": {"x": {"field": "grp", "type": "nominal"}, "y": {"field": "hi", "type": "quantitative"}}},
                  {"data": {"name": "pts"}, "transform": [{"filter": "datum.p == 'A-Heart'"}], "mark": {"type": "point", "size": 8, "strokeWidth": 0.7, "opacity": 1}, "encoding": {"x": {"field": "grp", "type": "nominal"}, "y": {"field": "v", "type": "quantitative"}, "fill": {"field": "c", "type": "nominal", "scale": {"domain": ["PBS-MK", "PVP40", "PVP360"], "range": ["rgba(255,255,255,0)", "#2f84cc", "#ef9a30"]}, "legend": null}, "stroke": {"field": "c", "type": "nominal", "scale": {"domain": ["PBS-MK", "PVP40", "PVP360"], "range": ["#555555", "#1d4f7a", "#6e4412"]}, "legend": null}}}
                 ]},
                {"title": "Kidney", "width": 46, "height": 86, "data": {"name": "bars"}, "transform": [{"filter": "datum.p == 'A-Kidney'"}],
                 "layer": [
                  {"mark": {"type": "bar", "stroke": "#2b2b2b", "strokeWidth": 0.6}, "encoding": {"x": {"field": "grp", "type": "nominal", "scale": {"paddingInner": 0.51, "paddingOuter": 0.38}, "axis": {"title": null, "labelExpr": "split(datum.label, ' ')"}}, "y": {"field": "m", "type": "quantitative", "scale": {"domain": [0, 10.66], "nice": false, "zero": false}, "axis": {"values": [0, 2, 4, 6, 8, 10], "labelOverlap": false, "title": null}}, "color": {"field": "c", "type": "nominal", "scale": {"domain": ["PBS-MK", "PVP40", "PVP360"], "range": ["#a9a9a9", "#2f7fc1", "#e8912e"]}, "legend": null}}},
                  {"mark": {"type": "rule", "color": "#111", "strokeWidth": 0.7}, "encoding": {"x": {"field": "grp", "type": "nominal"}, "y": {"field": "lo", "type": "quantitative"}, "y2": {"field": "hi"}}},
                  {"mark": {"type": "tick", "color": "#111", "size": 5, "thickness": 0.7}, "encoding": {"x": {"field": "grp", "type": "nominal"}, "y": {"field": "lo", "type": "quantitative"}}},
                  {"mark": {"type": "tick", "color": "#111", "size": 5, "thickness": 0.7}, "encoding": {"x": {"field": "grp", "type": "nominal"}, "y": {"field": "hi", "type": "quantitative"}}},
                  {"data": {"name": "pts"}, "transform": [{"filter": "datum.p == 'A-Kidney'"}], "mark": {"type": "point", "size": 8, "strokeWidth": 0.7, "opacity": 1}, "encoding": {"x": {"field": "grp", "type": "nominal"}, "y": {"field": "v", "type": "quantitative"}, "fill": {"field": "c", "type": "nominal", "scale": {"domain": ["PBS-MK", "PVP40", "PVP360"], "range": ["rgba(255,255,255,0)", "#2f84cc", "#ef9a30"]}, "legend": null}, "stroke": {"field": "c", "type": "nominal", "scale": {"domain": ["PBS-MK", "PVP40", "PVP360"], "range": ["#555555", "#1d4f7a", "#6e4412"]}, "legend": null}}}
                 ]},
                {"title": "GI", "width": 46, "height": 86, "data": {"name": "bars"}, "transform": [{"filter": "datum.p == 'A-GI'"}],
                 "layer": [
                  {"mark": {"type": "rule", "color": "#999", "strokeWidth": 0.6}, "encoding": {"y": {"datum": 0}}},
                  {"mark": {"type": "bar", "stroke": "#2b2b2b", "strokeWidth": 0.6}, "encoding": {"x": {"field": "grp", "type": "nominal", "scale": {"paddingInner": 0.51, "paddingOuter": 0.38}, "axis": {"title": null, "labelExpr": "split(datum.label, ' ')"}}, "y": {"field": "m", "type": "quantitative", "scale": {"domain": [-1.33, 4.38], "nice": false, "zero": false}, "axis": {"values": [-1, 0, 1, 2, 3, 4], "labelOverlap": false, "title": null}}, "color": {"field": "c", "type": "nominal", "scale": {"domain": ["PBS-MK", "PVP40", "PVP360"], "range": ["#a9a9a9", "#2f7fc1", "#e8912e"]}, "legend": null}}},
                  {"mark": {"type": "rule", "color": "#111", "strokeWidth": 0.7}, "encoding": {"x": {"field": "grp", "type": "nominal"}, "y": {"field": "lo", "type": "quantitative"}, "y2": {"field": "hi"}}},
                  {"mark": {"type": "tick", "color": "#111", "size": 5, "thickness": 0.7}, "encoding": {"x": {"field": "grp", "type": "nominal"}, "y": {"field": "lo", "type": "quantitative"}}},
                  {"mark": {"type": "tick", "color": "#111", "size": 5, "thickness": 0.7}, "encoding": {"x": {"field": "grp", "type": "nominal"}, "y": {"field": "hi", "type": "quantitative"}}},
                  {"data": {"name": "pts"}, "transform": [{"filter": "datum.p == 'A-GI'"}], "mark": {"type": "point", "size": 8, "strokeWidth": 0.7, "opacity": 1}, "encoding": {"x": {"field": "grp", "type": "nominal"}, "y": {"field": "v", "type": "quantitative"}, "fill": {"field": "c", "type": "nominal", "scale": {"domain": ["PBS-MK", "PVP40", "PVP360"], "range": ["rgba(255,255,255,0)", "#2f84cc", "#ef9a30"]}, "legend": null}, "stroke": {"field": "c", "type": "nominal", "scale": {"domain": ["PBS-MK", "PVP40", "PVP360"], "range": ["#555555", "#1d4f7a", "#6e4412"]}, "legend": null}}}
                 ]},
                {"width": 48, "height": 34, "data": {"name": "dens"}, "transform": [{"filter": "datum.p == 'A-Brain'"}],
                 "layer": [
                  {"transform": [{"filter": "datum.g == 'M'"}], "mark": {"type": "area", "interpolate": "monotone", "color": "#6b6b6b"}, "encoding": {"x": {"field": "x", "type": "quantitative", "scale": {"domain": [-7.81, 11.41], "nice": false, "zero": false}, "axis": {"values": [0, 10], "labelOverlap": false, "title": null}}, "y": {"field": "y", "type": "quantitative", "scale": {"domain": [0, 1.15], "nice": false}, "axis": {"title": ["Posterior", "density"], "labels": false, "ticks": false, "domain": false, "titlePadding": 2, "titleFontSize": 4.6}}}},
                  {"transform": [{"filter": "datum.g != 'M'"}], "mark": {"type": "area", "interpolate": "monotone", "color": "#d6d6d6"}, "encoding": {"x": {"field": "x", "type": "quantitative"}, "y": {"field": "y", "type": "quantitative"}, "detail": {"field": "g"}}},
                  {"mark": {"type": "line", "interpolate": "monotone", "color": "#1a1a1a", "strokeWidth": 0.8}, "encoding": {"x": {"field": "x", "type": "quantitative"}, "y": {"field": "y", "type": "quantitative"}, "detail": {"field": "g"}}},
                  {"data": {"name": "post"}, "transform": [{"filter": "datum.p == 'A-Brain'"}], "mark": {"type": "rule", "color": "#555", "strokeWidth": 0.7}, "encoding": {"x": {"field": "lo", "type": "quantitative"}}},
                  {"data": {"name": "post"}, "transform": [{"filter": "datum.p == 'A-Brain'"}], "mark": {"type": "rule", "color": "#555", "strokeWidth": 0.7}, "encoding": {"x": {"field": "hi", "type": "quantitative"}}},
                  {"data": {"name": "post"}, "transform": [{"filter": "datum.p == 'A-Brain'"}], "mark": {"type": "rule", "color": "#111", "strokeWidth": 0.7, "strokeDash": [2, 1.5]}, "encoding": {"x": {"datum": 0}}},
                  {"data": {"name": "post"}, "transform": [{"filter": "datum.p == 'A-Brain'"}], "mark": {"type": "text", "fontSize": 4.8, "dx": 2}, "encoding": {"x": {"field": "lo", "type": "quantitative"}, "y": {"datum": 1.05}, "text": {"field": "lab"}}}
                 ]},
                {"width": 48, "height": 34, "data": {"name": "dens"}, "transform": [{"filter": "datum.p == 'A-Liver'"}],
                 "layer": [
                  {"transform": [{"filter": "datum.g == 'M'"}], "mark": {"type": "area", "interpolate": "monotone", "color": "#6b6b6b"}, "encoding": {"x": {"field": "x", "type": "quantitative", "scale": {"domain": [-1.067, 1.847], "nice": false, "zero": false}, "axis": {"values": [-1, 0, 1], "labelOverlap": false, "title": null}}, "y": {"field": "y", "type": "quantitative", "scale": {"domain": [0, 1.15], "nice": false}, "axis": {"labels": false, "ticks": false, "domain": false, "title": null}}}},
                  {"transform": [{"filter": "datum.g != 'M'"}], "mark": {"type": "area", "interpolate": "monotone", "color": "#d6d6d6"}, "encoding": {"x": {"field": "x", "type": "quantitative"}, "y": {"field": "y", "type": "quantitative"}, "detail": {"field": "g"}}},
                  {"mark": {"type": "line", "interpolate": "monotone", "color": "#1a1a1a", "strokeWidth": 0.8}, "encoding": {"x": {"field": "x", "type": "quantitative"}, "y": {"field": "y", "type": "quantitative"}, "detail": {"field": "g"}}},
                  {"data": {"name": "post"}, "transform": [{"filter": "datum.p == 'A-Liver'"}], "mark": {"type": "rule", "color": "#555", "strokeWidth": 0.7}, "encoding": {"x": {"field": "lo", "type": "quantitative"}}},
                  {"data": {"name": "post"}, "transform": [{"filter": "datum.p == 'A-Liver'"}], "mark": {"type": "rule", "color": "#555", "strokeWidth": 0.7}, "encoding": {"x": {"field": "hi", "type": "quantitative"}}},
                  {"data": {"name": "post"}, "transform": [{"filter": "datum.p == 'A-Liver'"}], "mark": {"type": "rule", "color": "#111", "strokeWidth": 0.7, "strokeDash": [2, 1.5]}, "encoding": {"x": {"datum": 0}}},
                  {"data": {"name": "post"}, "transform": [{"filter": "datum.p == 'A-Liver'"}], "mark": {"type": "text", "fontSize": 4.8, "dx": 2}, "encoding": {"x": {"field": "lo", "type": "quantitative"}, "y": {"datum": 1.05}, "text": {"field": "lab"}}}
                 ]},
                {"width": 48, "height": 34, "data": {"name": "dens"}, "transform": [{"filter": "datum.p == 'A-Lung'"}],
                 "layer": [
                  {"transform": [{"filter": "datum.g == 'M'"}], "mark": {"type": "area", "interpolate": "monotone", "color": "#6b6b6b"}, "encoding": {"x": {"field": "x", "type": "quantitative", "scale": {"domain": [-56.46, 46.46], "nice": false, "zero": false}, "axis": {"values": [-50, 0], "labelOverlap": false, "title": null}}, "y": {"field": "y", "type": "quantitative", "scale": {"domain": [0, 1.15], "nice": false}, "axis": {"labels": false, "ticks": false, "domain": false, "title": null}}}},
                  {"transform": [{"filter": "datum.g != 'M'"}], "mark": {"type": "area", "interpolate": "monotone", "color": "#d6d6d6"}, "encoding": {"x": {"field": "x", "type": "quantitative"}, "y": {"field": "y", "type": "quantitative"}, "detail": {"field": "g"}}},
                  {"mark": {"type": "line", "interpolate": "monotone", "color": "#1a1a1a", "strokeWidth": 0.8}, "encoding": {"x": {"field": "x", "type": "quantitative"}, "y": {"field": "y", "type": "quantitative"}, "detail": {"field": "g"}}},
                  {"data": {"name": "post"}, "transform": [{"filter": "datum.p == 'A-Lung'"}], "mark": {"type": "rule", "color": "#555", "strokeWidth": 0.7}, "encoding": {"x": {"field": "lo", "type": "quantitative"}}},
                  {"data": {"name": "post"}, "transform": [{"filter": "datum.p == 'A-Lung'"}], "mark": {"type": "rule", "color": "#555", "strokeWidth": 0.7}, "encoding": {"x": {"field": "hi", "type": "quantitative"}}},
                  {"data": {"name": "post"}, "transform": [{"filter": "datum.p == 'A-Lung'"}], "mark": {"type": "rule", "color": "#111", "strokeWidth": 0.7, "strokeDash": [2, 1.5]}, "encoding": {"x": {"datum": 0}}},
                  {"data": {"name": "post"}, "transform": [{"filter": "datum.p == 'A-Lung'"}], "mark": {"type": "text", "fontSize": 4.8, "dx": 2}, "encoding": {"x": {"field": "lo", "type": "quantitative"}, "y": {"datum": 1.05}, "text": {"field": "lab"}}}
                 ]},
                {"width": 48, "height": 34, "data": {"name": "dens"}, "transform": [{"filter": "datum.p == 'A-Heart'"}],
                 "layer": [
                  {"transform": [{"filter": "datum.g == 'M'"}], "mark": {"type": "area", "interpolate": "monotone", "color": "#6b6b6b"}, "encoding": {"x": {"field": "x", "type": "quantitative", "scale": {"domain": [-22.86, 30.46], "nice": false, "zero": false}, "axis": {"values": [-20, 0, 20], "labelOverlap": false, "title": null}}, "y": {"field": "y", "type": "quantitative", "scale": {"domain": [0, 1.15], "nice": false}, "axis": {"labels": false, "ticks": false, "domain": false, "title": null}}}},
                  {"transform": [{"filter": "datum.g != 'M'"}], "mark": {"type": "area", "interpolate": "monotone", "color": "#d6d6d6"}, "encoding": {"x": {"field": "x", "type": "quantitative"}, "y": {"field": "y", "type": "quantitative"}, "detail": {"field": "g"}}},
                  {"mark": {"type": "line", "interpolate": "monotone", "color": "#1a1a1a", "strokeWidth": 0.8}, "encoding": {"x": {"field": "x", "type": "quantitative"}, "y": {"field": "y", "type": "quantitative"}, "detail": {"field": "g"}}},
                  {"data": {"name": "post"}, "transform": [{"filter": "datum.p == 'A-Heart'"}], "mark": {"type": "rule", "color": "#555", "strokeWidth": 0.7}, "encoding": {"x": {"field": "lo", "type": "quantitative"}}},
                  {"data": {"name": "post"}, "transform": [{"filter": "datum.p == 'A-Heart'"}], "mark": {"type": "rule", "color": "#555", "strokeWidth": 0.7}, "encoding": {"x": {"field": "hi", "type": "quantitative"}}},
                  {"data": {"name": "post"}, "transform": [{"filter": "datum.p == 'A-Heart'"}], "mark": {"type": "rule", "color": "#111", "strokeWidth": 0.7, "strokeDash": [2, 1.5]}, "encoding": {"x": {"datum": 0}}},
                  {"data": {"name": "post"}, "transform": [{"filter": "datum.p == 'A-Heart'"}], "mark": {"type": "text", "fontSize": 4.8, "dx": 2}, "encoding": {"x": {"field": "lo", "type": "quantitative"}, "y": {"datum": 1.05}, "text": {"field": "lab"}}}
                 ]},
                {"width": 48, "height": 34, "data": {"name": "dens"}, "transform": [{"filter": "datum.p == 'A-Kidney'"}],
                 "layer": [
                  {"transform": [{"filter": "datum.g == 'M'"}], "mark": {"type": "area", "interpolate": "monotone", "color": "#6b6b6b"}, "encoding": {"x": {"field": "x", "type": "quantitative", "scale": {"domain": [-3.175, 4.575], "nice": false, "zero": false}, "axis": {"values": [-2.5, 0, 2.5], "format": ".1f", "labelOverlap": false, "title": null}}, "y": {"field": "y", "type": "quantitative", "scale": {"domain": [0, 1.15], "nice": false}, "axis": {"labels": false, "ticks": false, "domain": false, "title": null}}}},
                  {"transform": [{"filter": "datum.g != 'M'"}], "mark": {"type": "area", "interpolate": "monotone", "color": "#d6d6d6"}, "encoding": {"x": {"field": "x", "type": "quantitative"}, "y": {"field": "y", "type": "quantitative"}, "detail": {"field": "g"}}},
                  {"mark": {"type": "line", "interpolate": "monotone", "color": "#1a1a1a", "strokeWidth": 0.8}, "encoding": {"x": {"field": "x", "type": "quantitative"}, "y": {"field": "y", "type": "quantitative"}, "detail": {"field": "g"}}},
                  {"data": {"name": "post"}, "transform": [{"filter": "datum.p == 'A-Kidney'"}], "mark": {"type": "rule", "color": "#555", "strokeWidth": 0.7}, "encoding": {"x": {"field": "lo", "type": "quantitative"}}},
                  {"data": {"name": "post"}, "transform": [{"filter": "datum.p == 'A-Kidney'"}], "mark": {"type": "rule", "color": "#555", "strokeWidth": 0.7}, "encoding": {"x": {"field": "hi", "type": "quantitative"}}},
                  {"data": {"name": "post"}, "transform": [{"filter": "datum.p == 'A-Kidney'"}], "mark": {"type": "rule", "color": "#111", "strokeWidth": 0.7, "strokeDash": [2, 1.5]}, "encoding": {"x": {"datum": 0}}},
                  {"data": {"name": "post"}, "transform": [{"filter": "datum.p == 'A-Kidney'"}], "mark": {"type": "text", "fontSize": 4.8, "dx": 2}, "encoding": {"x": {"field": "lo", "type": "quantitative"}, "y": {"datum": 1.05}, "text": {"field": "lab"}}}
                 ]},
                {"width": 48, "height": 34, "data": {"name": "dens"}, "transform": [{"filter": "datum.p == 'A-GI'"}],
                 "layer": [
                  {"transform": [{"filter": "datum.g == 'M'"}], "mark": {"type": "area", "interpolate": "monotone", "color": "#6b6b6b"}, "encoding": {"x": {"field": "x", "type": "quantitative", "scale": {"domain": [-3.765, 3.365], "nice": false, "zero": false}, "axis": {"values": [-2.5, 0, 2.5], "format": ".1f", "labelOverlap": false, "title": null}}, "y": {"field": "y", "type": "quantitative", "scale": {"domain": [0, 1.15], "nice": false}, "axis": {"labels": false, "ticks": false, "domain": false, "title": null}}}},
                  {"transform": [{"filter": "datum.g != 'M'"}], "mark": {"type": "area", "interpolate": "monotone", "color": "#d6d6d6"}, "encoding": {"x": {"field": "x", "type": "quantitative"}, "y": {"field": "y", "type": "quantitative"}, "detail": {"field": "g"}}},
                  {"mark": {"type": "line", "interpolate": "monotone", "color": "#1a1a1a", "strokeWidth": 0.8}, "encoding": {"x": {"field": "x", "type": "quantitative"}, "y": {"field": "y", "type": "quantitative"}, "detail": {"field": "g"}}},
                  {"data": {"name": "post"}, "transform": [{"filter": "datum.p == 'A-GI'"}], "mark": {"type": "rule", "color": "#555", "strokeWidth": 0.7}, "encoding": {"x": {"field": "lo", "type": "quantitative"}}},
                  {"data": {"name": "post"}, "transform": [{"filter": "datum.p == 'A-GI'"}], "mark": {"type": "rule", "color": "#555", "strokeWidth": 0.7}, "encoding": {"x": {"field": "hi", "type": "quantitative"}}},
                  {"data": {"name": "post"}, "transform": [{"filter": "datum.p == 'A-GI'"}], "mark": {"type": "rule", "color": "#111", "strokeWidth": 0.7, "strokeDash": [2, 1.5]}, "encoding": {"x": {"datum": 0}}},
                  {"data": {"name": "post"}, "transform": [{"filter": "datum.p == 'A-GI'"}], "mark": {"type": "text", "fontSize": 4.8, "dx": 2}, "encoding": {"x": {"field": "lo", "type": "quantitative"}, "y": {"datum": 1.05}, "text": {"field": "lab"}}}
                 ]}
              ]
            },
            {
              "title": {"text": "B\u00a0\u00a0PVP360: quantification and Bayesian density (count)", "anchor": "start", "frame": "bounds", "dx": 28, "offset": 19, "fontSize": 6.8, "fontWeight": "bold"},
              "columns": 6, "bounds": "flush", "spacing": {"row": 33, "column": 29.6},
              "concat": [
                {"title": {"text": "Brain", "fontWeight": "normal", "fontSize": 6}, "width": 46, "height": 69, "data": {"name": "bars"}, "transform": [{"filter": "datum.p == 'B-Brain'"}],
                 "layer": [
                  {"mark": {"type": "rule", "color": "#999", "strokeWidth": 0.6}, "encoding": {"y": {"datum": 0}}},
                  {"mark": {"type": "bar", "stroke": "#2b2b2b", "strokeWidth": 0.6}, "encoding": {"x": {"field": "grp", "type": "nominal", "scale": {"paddingInner": 0.51, "paddingOuter": 0.38}, "axis": {"title": null, "labelExpr": "split(datum.label, ' ')"}}, "y": {"field": "m", "type": "quantitative", "scale": {"domain": [-0.084, 0.558], "nice": false, "zero": false}, "axis": {"values": [0, 0.2, 0.4], "format": ".1f", "labelOverlap": false, "title": ["Total-bkgd count", "(×10³ count)"]}}, "color": {"field": "c", "type": "nominal", "scale": {"domain": ["PBS-MK", "PVP40", "PVP360"], "range": ["#a9a9a9", "#2f7fc1", "#e8912e"]}, "legend": null}}},
                  {"mark": {"type": "rule", "color": "#111", "strokeWidth": 0.7}, "encoding": {"x": {"field": "grp", "type": "nominal"}, "y": {"field": "lo", "type": "quantitative"}, "y2": {"field": "hi"}}},
                  {"mark": {"type": "tick", "color": "#111", "size": 5, "thickness": 0.7}, "encoding": {"x": {"field": "grp", "type": "nominal"}, "y": {"field": "lo", "type": "quantitative"}}},
                  {"mark": {"type": "tick", "color": "#111", "size": 5, "thickness": 0.7}, "encoding": {"x": {"field": "grp", "type": "nominal"}, "y": {"field": "hi", "type": "quantitative"}}},
                  {"data": {"name": "pts"}, "transform": [{"filter": "datum.p == 'B-Brain'"}], "mark": {"type": "point", "size": 8, "strokeWidth": 0.7, "opacity": 1}, "encoding": {"x": {"field": "grp", "type": "nominal"}, "y": {"field": "v", "type": "quantitative"}, "fill": {"field": "c", "type": "nominal", "scale": {"domain": ["PBS-MK", "PVP40", "PVP360"], "range": ["rgba(255,255,255,0)", "#2f84cc", "#ef9a30"]}, "legend": null}, "stroke": {"field": "c", "type": "nominal", "scale": {"domain": ["PBS-MK", "PVP40", "PVP360"], "range": ["#555555", "#1d4f7a", "#6e4412"]}, "legend": null}}}
                 ]},
                {"title": {"text": "Liver", "fontWeight": "normal", "fontSize": 6}, "width": 46, "height": 69, "data": {"name": "bars"}, "transform": [{"filter": "datum.p == 'B-Liver'"}],
                 "layer": [
                  {"mark": {"type": "rule", "color": "#999", "strokeWidth": 0.6}, "encoding": {"y": {"datum": 0}}},
                  {"mark": {"type": "bar", "stroke": "#2b2b2b", "strokeWidth": 0.6}, "encoding": {"x": {"field": "grp", "type": "nominal", "scale": {"paddingInner": 0.51, "paddingOuter": 0.38}, "axis": {"title": null, "labelExpr": "split(datum.label, ' ')"}}, "y": {"field": "m", "type": "quantitative", "scale": {"domain": [-0.223, 1.01], "nice": false, "zero": false}, "axis": {"values": [0, 0.25, 0.5, 0.75, 1], "format": ".2f", "labelOverlap": false, "title": null}}, "color": {"field": "c", "type": "nominal", "scale": {"domain": ["PBS-MK", "PVP40", "PVP360"], "range": ["#a9a9a9", "#2f7fc1", "#e8912e"]}, "legend": null}}},
                  {"mark": {"type": "rule", "color": "#111", "strokeWidth": 0.7}, "encoding": {"x": {"field": "grp", "type": "nominal"}, "y": {"field": "lo", "type": "quantitative"}, "y2": {"field": "hi"}}},
                  {"mark": {"type": "tick", "color": "#111", "size": 5, "thickness": 0.7}, "encoding": {"x": {"field": "grp", "type": "nominal"}, "y": {"field": "lo", "type": "quantitative"}}},
                  {"mark": {"type": "tick", "color": "#111", "size": 5, "thickness": 0.7}, "encoding": {"x": {"field": "grp", "type": "nominal"}, "y": {"field": "hi", "type": "quantitative"}}},
                  {"data": {"name": "pts"}, "transform": [{"filter": "datum.p == 'B-Liver'"}], "mark": {"type": "point", "size": 8, "strokeWidth": 0.7, "opacity": 1}, "encoding": {"x": {"field": "grp", "type": "nominal"}, "y": {"field": "v", "type": "quantitative"}, "fill": {"field": "c", "type": "nominal", "scale": {"domain": ["PBS-MK", "PVP40", "PVP360"], "range": ["rgba(255,255,255,0)", "#2f84cc", "#ef9a30"]}, "legend": null}, "stroke": {"field": "c", "type": "nominal", "scale": {"domain": ["PBS-MK", "PVP40", "PVP360"], "range": ["#555555", "#1d4f7a", "#6e4412"]}, "legend": null}}}
                 ]},
                {"title": {"text": "Lung", "fontWeight": "normal", "fontSize": 6}, "width": 46, "height": 69, "data": {"name": "bars"}, "transform": [{"filter": "datum.p == 'B-Lung'"}],
                 "layer": [
                  {"mark": {"type": "rule", "color": "#999", "strokeWidth": 0.6}, "encoding": {"y": {"datum": 0}}},
                  {"mark": {"type": "bar", "stroke": "#2b2b2b", "strokeWidth": 0.6}, "encoding": {"x": {"field": "grp", "type": "nominal", "scale": {"paddingInner": 0.51, "paddingOuter": 0.38}, "axis": {"title": null, "labelExpr": "split(datum.label, ' ')"}}, "y": {"field": "m", "type": "quantitative", "scale": {"domain": [-0.36, 1.02], "nice": false, "zero": false}, "axis": {"values": [-0.25, 0, 0.25, 0.5, 0.75, 1], "format": ".2f", "labelOverlap": false, "title": null}}, "color": {"field": "c", "type": "nominal", "scale": {"domain": ["PBS-MK", "PVP40", "PVP360"], "range": ["#a9a9a9", "#2f7fc1", "#e8912e"]}, "legend": null}}},
                  {"mark": {"type": "rule", "color": "#111", "strokeWidth": 0.7}, "encoding": {"x": {"field": "grp", "type": "nominal"}, "y": {"field": "lo", "type": "quantitative"}, "y2": {"field": "hi"}}},
                  {"mark": {"type": "tick", "color": "#111", "size": 5, "thickness": 0.7}, "encoding": {"x": {"field": "grp", "type": "nominal"}, "y": {"field": "lo", "type": "quantitative"}}},
                  {"mark": {"type": "tick", "color": "#111", "size": 5, "thickness": 0.7}, "encoding": {"x": {"field": "grp", "type": "nominal"}, "y": {"field": "hi", "type": "quantitative"}}},
                  {"data": {"name": "pts"}, "transform": [{"filter": "datum.p == 'B-Lung'"}], "mark": {"type": "point", "size": 8, "strokeWidth": 0.7, "opacity": 1}, "encoding": {"x": {"field": "grp", "type": "nominal"}, "y": {"field": "v", "type": "quantitative"}, "fill": {"field": "c", "type": "nominal", "scale": {"domain": ["PBS-MK", "PVP40", "PVP360"], "range": ["rgba(255,255,255,0)", "#2f84cc", "#ef9a30"]}, "legend": null}, "stroke": {"field": "c", "type": "nominal", "scale": {"domain": ["PBS-MK", "PVP40", "PVP360"], "range": ["#555555", "#1d4f7a", "#6e4412"]}, "legend": null}}}
                 ]},
                {"title": {"text": "Heart", "fontWeight": "normal", "fontSize": 6}, "width": 46, "height": 69, "data": {"name": "bars"}, "transform": [{"filter": "datum.p == 'B-Heart'"}],
                 "layer": [
                  {"mark": {"type": "bar", "stroke": "#2b2b2b", "strokeWidth": 0.6}, "encoding": {"x": {"field": "grp", "type": "nominal", "scale": {"paddingInner": 0.51, "paddingOuter": 0.38}, "axis": {"title": null, "labelExpr": "split(datum.label, ' ')"}}, "y": {"field": "m", "type": "quantitative", "scale": {"domain": [0, 0.63], "nice": false, "zero": false}, "axis": {"values": [0, 0.2, 0.4, 0.6], "format": ".1f", "labelOverlap": false, "title": null}}, "color": {"field": "c", "type": "nominal", "scale": {"domain": ["PBS-MK", "PVP40", "PVP360"], "range": ["#a9a9a9", "#2f7fc1", "#e8912e"]}, "legend": null}}},
                  {"mark": {"type": "rule", "color": "#111", "strokeWidth": 0.7}, "encoding": {"x": {"field": "grp", "type": "nominal"}, "y": {"field": "lo", "type": "quantitative"}, "y2": {"field": "hi"}}},
                  {"mark": {"type": "tick", "color": "#111", "size": 5, "thickness": 0.7}, "encoding": {"x": {"field": "grp", "type": "nominal"}, "y": {"field": "lo", "type": "quantitative"}}},
                  {"mark": {"type": "tick", "color": "#111", "size": 5, "thickness": 0.7}, "encoding": {"x": {"field": "grp", "type": "nominal"}, "y": {"field": "hi", "type": "quantitative"}}},
                  {"data": {"name": "pts"}, "transform": [{"filter": "datum.p == 'B-Heart'"}], "mark": {"type": "point", "size": 8, "strokeWidth": 0.7, "opacity": 1}, "encoding": {"x": {"field": "grp", "type": "nominal"}, "y": {"field": "v", "type": "quantitative"}, "fill": {"field": "c", "type": "nominal", "scale": {"domain": ["PBS-MK", "PVP40", "PVP360"], "range": ["rgba(255,255,255,0)", "#2f84cc", "#ef9a30"]}, "legend": null}, "stroke": {"field": "c", "type": "nominal", "scale": {"domain": ["PBS-MK", "PVP40", "PVP360"], "range": ["#555555", "#1d4f7a", "#6e4412"]}, "legend": null}}}
                 ]},
                {"title": {"text": "Kidney", "fontWeight": "normal", "fontSize": 6}, "width": 46, "height": 69, "data": {"name": "bars"}, "transform": [{"filter": "datum.p == 'B-Kidney'"}],
                 "layer": [
                  {"mark": {"type": "rule", "color": "#999", "strokeWidth": 0.6}, "encoding": {"y": {"datum": 0}}},
                  {"mark": {"type": "bar", "stroke": "#2b2b2b", "strokeWidth": 0.6}, "encoding": {"x": {"field": "grp", "type": "nominal", "scale": {"paddingInner": 0.51, "paddingOuter": 0.38}, "axis": {"title": null, "labelExpr": "split(datum.label, ' ')"}}, "y": {"field": "m", "type": "quantitative", "scale": {"domain": [-0.15, 0.73], "nice": false, "zero": false}, "axis": {"values": [0, 0.2, 0.4, 0.6], "format": ".1f", "labelOverlap": false, "title": null}}, "color": {"field": "c", "type": "nominal", "scale": {"domain": ["PBS-MK", "PVP40", "PVP360"], "range": ["#a9a9a9", "#2f7fc1", "#e8912e"]}, "legend": null}}},
                  {"mark": {"type": "rule", "color": "#111", "strokeWidth": 0.7}, "encoding": {"x": {"field": "grp", "type": "nominal"}, "y": {"field": "lo", "type": "quantitative"}, "y2": {"field": "hi"}}},
                  {"mark": {"type": "tick", "color": "#111", "size": 5, "thickness": 0.7}, "encoding": {"x": {"field": "grp", "type": "nominal"}, "y": {"field": "lo", "type": "quantitative"}}},
                  {"mark": {"type": "tick", "color": "#111", "size": 5, "thickness": 0.7}, "encoding": {"x": {"field": "grp", "type": "nominal"}, "y": {"field": "hi", "type": "quantitative"}}},
                  {"data": {"name": "pts"}, "transform": [{"filter": "datum.p == 'B-Kidney'"}], "mark": {"type": "point", "size": 8, "strokeWidth": 0.7, "opacity": 1}, "encoding": {"x": {"field": "grp", "type": "nominal"}, "y": {"field": "v", "type": "quantitative"}, "fill": {"field": "c", "type": "nominal", "scale": {"domain": ["PBS-MK", "PVP40", "PVP360"], "range": ["rgba(255,255,255,0)", "#2f84cc", "#ef9a30"]}, "legend": null}, "stroke": {"field": "c", "type": "nominal", "scale": {"domain": ["PBS-MK", "PVP40", "PVP360"], "range": ["#555555", "#1d4f7a", "#6e4412"]}, "legend": null}}}
                 ]},
                {"title": {"text": "GI", "fontWeight": "normal", "fontSize": 6}, "width": 46, "height": 69, "data": {"name": "bars"}, "transform": [{"filter": "datum.p == 'B-GI'"}],
                 "layer": [
                  {"mark": {"type": "bar", "stroke": "#2b2b2b", "strokeWidth": 0.6}, "encoding": {"x": {"field": "grp", "type": "nominal", "scale": {"paddingInner": 0.51, "paddingOuter": 0.38}, "axis": {"title": null, "labelExpr": "split(datum.label, ' ')"}}, "y": {"field": "m", "type": "quantitative", "scale": {"domain": [0, 13.2], "nice": false, "zero": false}, "axis": {"values": [0, 2.5, 5, 7.5, 10, 12.5], "format": ".1f", "labelOverlap": false, "title": null}}, "color": {"field": "c", "type": "nominal", "scale": {"domain": ["PBS-MK", "PVP40", "PVP360"], "range": ["#a9a9a9", "#2f7fc1", "#e8912e"]}, "legend": null}}},
                  {"mark": {"type": "rule", "color": "#111", "strokeWidth": 0.7}, "encoding": {"x": {"field": "grp", "type": "nominal"}, "y": {"field": "lo", "type": "quantitative"}, "y2": {"field": "hi"}}},
                  {"mark": {"type": "tick", "color": "#111", "size": 5, "thickness": 0.7}, "encoding": {"x": {"field": "grp", "type": "nominal"}, "y": {"field": "lo", "type": "quantitative"}}},
                  {"mark": {"type": "tick", "color": "#111", "size": 5, "thickness": 0.7}, "encoding": {"x": {"field": "grp", "type": "nominal"}, "y": {"field": "hi", "type": "quantitative"}}},
                  {"data": {"name": "pts"}, "transform": [{"filter": "datum.p == 'B-GI'"}], "mark": {"type": "point", "size": 8, "strokeWidth": 0.7, "opacity": 1}, "encoding": {"x": {"field": "grp", "type": "nominal"}, "y": {"field": "v", "type": "quantitative"}, "fill": {"field": "c", "type": "nominal", "scale": {"domain": ["PBS-MK", "PVP40", "PVP360"], "range": ["rgba(255,255,255,0)", "#2f84cc", "#ef9a30"]}, "legend": null}, "stroke": {"field": "c", "type": "nominal", "scale": {"domain": ["PBS-MK", "PVP40", "PVP360"], "range": ["#555555", "#1d4f7a", "#6e4412"]}, "legend": null}}}
                 ]},
                {"width": 48, "height": 35, "data": {"name": "dens"}, "transform": [{"filter": "datum.p == 'B-Brain'"}],
                 "layer": [
                  {"transform": [{"filter": "datum.g == 'M'"}], "mark": {"type": "area", "interpolate": "monotone", "color": "#6b6b6b"}, "encoding": {"x": {"field": "x", "type": "quantitative", "scale": {"domain": [-0.357, 0.437], "nice": false, "zero": false}, "axis": {"values": [-0.25, 0, 0.25], "format": ".2f", "labelOverlap": false, "title": "Δ"}}, "y": {"field": "y", "type": "quantitative", "scale": {"domain": [0, 1.15], "nice": false}, "axis": {"title": ["Posterior", "density"], "labels": false, "ticks": false, "domain": false, "titlePadding": 2, "titleFontSize": 4.6}}}},
                  {"transform": [{"filter": "datum.g != 'M'"}], "mark": {"type": "area", "interpolate": "monotone", "color": "#d6d6d6"}, "encoding": {"x": {"field": "x", "type": "quantitative"}, "y": {"field": "y", "type": "quantitative"}, "detail": {"field": "g"}}},
                  {"mark": {"type": "line", "interpolate": "monotone", "color": "#1a1a1a", "strokeWidth": 0.8}, "encoding": {"x": {"field": "x", "type": "quantitative"}, "y": {"field": "y", "type": "quantitative"}, "detail": {"field": "g"}}},
                  {"data": {"name": "post"}, "transform": [{"filter": "datum.p == 'B-Brain'"}], "mark": {"type": "rule", "color": "#555", "strokeWidth": 0.7}, "encoding": {"x": {"field": "lo", "type": "quantitative"}}},
                  {"data": {"name": "post"}, "transform": [{"filter": "datum.p == 'B-Brain'"}], "mark": {"type": "rule", "color": "#555", "strokeWidth": 0.7}, "encoding": {"x": {"field": "hi", "type": "quantitative"}}},
                  {"data": {"name": "post"}, "transform": [{"filter": "datum.p == 'B-Brain'"}], "mark": {"type": "rule", "color": "#111", "strokeWidth": 0.7, "strokeDash": [2, 1.5]}, "encoding": {"x": {"datum": 0}}},
                  {"data": {"name": "post"}, "transform": [{"filter": "datum.p == 'B-Brain'"}], "mark": {"type": "text", "fontSize": 4.8, "dx": 2}, "encoding": {"x": {"field": "lo", "type": "quantitative"}, "y": {"datum": 1.05}, "text": {"field": "lab"}}}
                 ]},
                {"width": 48, "height": 35, "data": {"name": "dens"}, "transform": [{"filter": "datum.p == 'B-Liver'"}],
                 "layer": [
                  {"transform": [{"filter": "datum.g == 'M'"}], "mark": {"type": "area", "interpolate": "monotone", "color": "#6b6b6b"}, "encoding": {"x": {"field": "x", "type": "quantitative", "scale": {"domain": [-0.357, 0.697], "nice": false, "zero": false}, "axis": {"values": [0, 0.5], "format": ".1f", "labelOverlap": false, "title": "Δ"}}, "y": {"field": "y", "type": "quantitative", "scale": {"domain": [0, 1.15], "nice": false}, "axis": {"labels": false, "ticks": false, "domain": false, "title": null}}}},
                  {"transform": [{"filter": "datum.g != 'M'"}], "mark": {"type": "area", "interpolate": "monotone", "color": "#d6d6d6"}, "encoding": {"x": {"field": "x", "type": "quantitative"}, "y": {"field": "y", "type": "quantitative"}, "detail": {"field": "g"}}},
                  {"mark": {"type": "line", "interpolate": "monotone", "color": "#1a1a1a", "strokeWidth": 0.8}, "encoding": {"x": {"field": "x", "type": "quantitative"}, "y": {"field": "y", "type": "quantitative"}, "detail": {"field": "g"}}},
                  {"data": {"name": "post"}, "transform": [{"filter": "datum.p == 'B-Liver'"}], "mark": {"type": "rule", "color": "#555", "strokeWidth": 0.7}, "encoding": {"x": {"field": "lo", "type": "quantitative"}}},
                  {"data": {"name": "post"}, "transform": [{"filter": "datum.p == 'B-Liver'"}], "mark": {"type": "rule", "color": "#555", "strokeWidth": 0.7}, "encoding": {"x": {"field": "hi", "type": "quantitative"}}},
                  {"data": {"name": "post"}, "transform": [{"filter": "datum.p == 'B-Liver'"}], "mark": {"type": "rule", "color": "#111", "strokeWidth": 0.7, "strokeDash": [2, 1.5]}, "encoding": {"x": {"datum": 0}}},
                  {"data": {"name": "post"}, "transform": [{"filter": "datum.p == 'B-Liver'"}], "mark": {"type": "text", "fontSize": 4.8, "dx": 2}, "encoding": {"x": {"field": "lo", "type": "quantitative"}, "y": {"datum": 1.05}, "text": {"field": "lab"}}}
                 ]},
                {"width": 48, "height": 35, "data": {"name": "dens"}, "transform": [{"filter": "datum.p == 'B-Lung'"}],
                 "layer": [
                  {"transform": [{"filter": "datum.g == 'M'"}], "mark": {"type": "area", "interpolate": "monotone", "color": "#6b6b6b"}, "encoding": {"x": {"field": "x", "type": "quantitative", "scale": {"domain": [-0.259, 0.919], "nice": false, "zero": false}, "axis": {"values": [0, 0.5], "format": ".1f", "labelOverlap": false, "title": "Δ"}}, "y": {"field": "y", "type": "quantitative", "scale": {"domain": [0, 1.15], "nice": false}, "axis": {"labels": false, "ticks": false, "domain": false, "title": null}}}},
                  {"transform": [{"filter": "datum.g != 'M'"}], "mark": {"type": "area", "interpolate": "monotone", "color": "#d6d6d6"}, "encoding": {"x": {"field": "x", "type": "quantitative"}, "y": {"field": "y", "type": "quantitative"}, "detail": {"field": "g"}}},
                  {"mark": {"type": "line", "interpolate": "monotone", "color": "#1a1a1a", "strokeWidth": 0.8}, "encoding": {"x": {"field": "x", "type": "quantitative"}, "y": {"field": "y", "type": "quantitative"}, "detail": {"field": "g"}}},
                  {"data": {"name": "post"}, "transform": [{"filter": "datum.p == 'B-Lung'"}], "mark": {"type": "rule", "color": "#555", "strokeWidth": 0.7}, "encoding": {"x": {"field": "lo", "type": "quantitative"}}},
                  {"data": {"name": "post"}, "transform": [{"filter": "datum.p == 'B-Lung'"}], "mark": {"type": "rule", "color": "#555", "strokeWidth": 0.7}, "encoding": {"x": {"field": "hi", "type": "quantitative"}}},
                  {"data": {"name": "post"}, "transform": [{"filter": "datum.p == 'B-Lung'"}], "mark": {"type": "rule", "color": "#111", "strokeWidth": 0.7, "strokeDash": [2, 1.5]}, "encoding": {"x": {"datum": 0}}},
                  {"data": {"name": "post"}, "transform": [{"filter": "datum.p == 'B-Lung'"}], "mark": {"type": "text", "fontSize": 4.8, "dx": 2}, "encoding": {"x": {"field": "lo", "type": "quantitative"}, "y": {"datum": 1.05}, "text": {"field": "lab"}}}
                 ]},
                {"width": 48, "height": 35, "data": {"name": "dens"}, "transform": [{"filter": "datum.p == 'B-Heart'"}],
                 "layer": [
                  {"transform": [{"filter": "datum.g == 'M'"}], "mark": {"type": "area", "interpolate": "monotone", "color": "#6b6b6b"}, "encoding": {"x": {"field": "x", "type": "quantitative", "scale": {"domain": [-0.277, 0.157], "nice": false, "zero": false}, "axis": {"values": [-0.2, 0], "format": ".1f", "labelOverlap": false, "title": "Δ"}}, "y": {"field": "y", "type": "quantitative", "scale": {"domain": [0, 1.15], "nice": false}, "axis": {"labels": false, "ticks": false, "domain": false, "title": null}}}},
                  {"transform": [{"filter": "datum.g != 'M'"}], "mark": {"type": "area", "interpolate": "monotone", "color": "#d6d6d6"}, "encoding": {"x": {"field": "x", "type": "quantitative"}, "y": {"field": "y", "type": "quantitative"}, "detail": {"field": "g"}}},
                  {"mark": {"type": "line", "interpolate": "monotone", "color": "#1a1a1a", "strokeWidth": 0.8}, "encoding": {"x": {"field": "x", "type": "quantitative"}, "y": {"field": "y", "type": "quantitative"}, "detail": {"field": "g"}}},
                  {"data": {"name": "post"}, "transform": [{"filter": "datum.p == 'B-Heart'"}], "mark": {"type": "rule", "color": "#555", "strokeWidth": 0.7}, "encoding": {"x": {"field": "lo", "type": "quantitative"}}},
                  {"data": {"name": "post"}, "transform": [{"filter": "datum.p == 'B-Heart'"}], "mark": {"type": "rule", "color": "#555", "strokeWidth": 0.7}, "encoding": {"x": {"field": "hi", "type": "quantitative"}}},
                  {"data": {"name": "post"}, "transform": [{"filter": "datum.p == 'B-Heart'"}], "mark": {"type": "rule", "color": "#111", "strokeWidth": 0.7, "strokeDash": [2, 1.5]}, "encoding": {"x": {"datum": 0}}},
                  {"data": {"name": "post"}, "transform": [{"filter": "datum.p == 'B-Heart'"}], "mark": {"type": "text", "fontSize": 4.8, "dx": 2}, "encoding": {"x": {"field": "lo", "type": "quantitative"}, "y": {"datum": 1.05}, "text": {"field": "lab"}}}
                 ]},
                {"width": 48, "height": 35, "data": {"name": "dens"}, "transform": [{"filter": "datum.p == 'B-Kidney'"}],
                 "layer": [
                  {"transform": [{"filter": "datum.g == 'M'"}], "mark": {"type": "area", "interpolate": "monotone", "color": "#6b6b6b"}, "encoding": {"x": {"field": "x", "type": "quantitative", "scale": {"domain": [-0.3, 0.66], "nice": false, "zero": false}, "axis": {"values": [0, 0.5], "format": ".1f", "labelOverlap": false, "title": "Δ"}}, "y": {"field": "y", "type": "quantitative", "scale": {"domain": [0, 1.15], "nice": false}, "axis": {"labels": false, "ticks": false, "domain": false, "title": null}}}},
                  {"transform": [{"filter": "datum.g != 'M'"}], "mark": {"type": "area", "interpolate": "monotone", "color": "#d6d6d6"}, "encoding": {"x": {"field": "x", "type": "quantitative"}, "y": {"field": "y", "type": "quantitative"}, "detail": {"field": "g"}}},
                  {"mark": {"type": "line", "interpolate": "monotone", "color": "#1a1a1a", "strokeWidth": 0.8}, "encoding": {"x": {"field": "x", "type": "quantitative"}, "y": {"field": "y", "type": "quantitative"}, "detail": {"field": "g"}}},
                  {"data": {"name": "post"}, "transform": [{"filter": "datum.p == 'B-Kidney'"}], "mark": {"type": "rule", "color": "#555", "strokeWidth": 0.7}, "encoding": {"x": {"field": "lo", "type": "quantitative"}}},
                  {"data": {"name": "post"}, "transform": [{"filter": "datum.p == 'B-Kidney'"}], "mark": {"type": "rule", "color": "#555", "strokeWidth": 0.7}, "encoding": {"x": {"field": "hi", "type": "quantitative"}}},
                  {"data": {"name": "post"}, "transform": [{"filter": "datum.p == 'B-Kidney'"}], "mark": {"type": "rule", "color": "#111", "strokeWidth": 0.7, "strokeDash": [2, 1.5]}, "encoding": {"x": {"datum": 0}}},
                  {"data": {"name": "post"}, "transform": [{"filter": "datum.p == 'B-Kidney'"}], "mark": {"type": "text", "fontSize": 4.8, "dx": 2}, "encoding": {"x": {"field": "lo", "type": "quantitative"}, "y": {"datum": 1.05}, "text": {"field": "lab"}}}
                 ]},
                {"width": 48, "height": 35, "data": {"name": "dens"}, "transform": [{"filter": "datum.p == 'B-GI'"}],
                 "layer": [
                  {"transform": [{"filter": "datum.g == 'M'"}], "mark": {"type": "area", "interpolate": "monotone", "color": "#6b6b6b"}, "encoding": {"x": {"field": "x", "type": "quantitative", "scale": {"domain": [-2.244, 5.444], "nice": false, "zero": false}, "axis": {"values": [0, 2.5, 5], "format": ".1f", "labelOverlap": false, "title": "Δ"}}, "y": {"field": "y", "type": "quantitative", "scale": {"domain": [0, 1.15], "nice": false}, "axis": {"labels": false, "ticks": false, "domain": false, "title": null}}}},
                  {"transform": [{"filter": "datum.g != 'M'"}], "mark": {"type": "area", "interpolate": "monotone", "color": "#d6d6d6"}, "encoding": {"x": {"field": "x", "type": "quantitative"}, "y": {"field": "y", "type": "quantitative"}, "detail": {"field": "g"}}},
                  {"mark": {"type": "line", "interpolate": "monotone", "color": "#1a1a1a", "strokeWidth": 0.8}, "encoding": {"x": {"field": "x", "type": "quantitative"}, "y": {"field": "y", "type": "quantitative"}, "detail": {"field": "g"}}},
                  {"data": {"name": "post"}, "transform": [{"filter": "datum.p == 'B-GI'"}], "mark": {"type": "rule", "color": "#555", "strokeWidth": 0.7}, "encoding": {"x": {"field": "lo", "type": "quantitative"}}},
                  {"data": {"name": "post"}, "transform": [{"filter": "datum.p == 'B-GI'"}], "mark": {"type": "rule", "color": "#555", "strokeWidth": 0.7}, "encoding": {"x": {"field": "hi", "type": "quantitative"}}},
                  {"data": {"name": "post"}, "transform": [{"filter": "datum.p == 'B-GI'"}], "mark": {"type": "rule", "color": "#111", "strokeWidth": 0.7, "strokeDash": [2, 1.5]}, "encoding": {"x": {"datum": 0}}},
                  {"data": {"name": "post"}, "transform": [{"filter": "datum.p == 'B-GI'"}], "mark": {"type": "text", "fontSize": 4.8, "dx": 2}, "encoding": {"x": {"field": "lo", "type": "quantitative"}, "y": {"datum": 1.05}, "text": {"field": "lab"}}}
                 ]}
              ]
            }
          ]
        }
      ]
    },
    {"width": 58, "height": 400, "view": {"fill": "black", "stroke": null}, "data": {"values": [{}]}, "mark": {"type": "point", "opacity": 0}, "encoding": {}}
  ]
}
